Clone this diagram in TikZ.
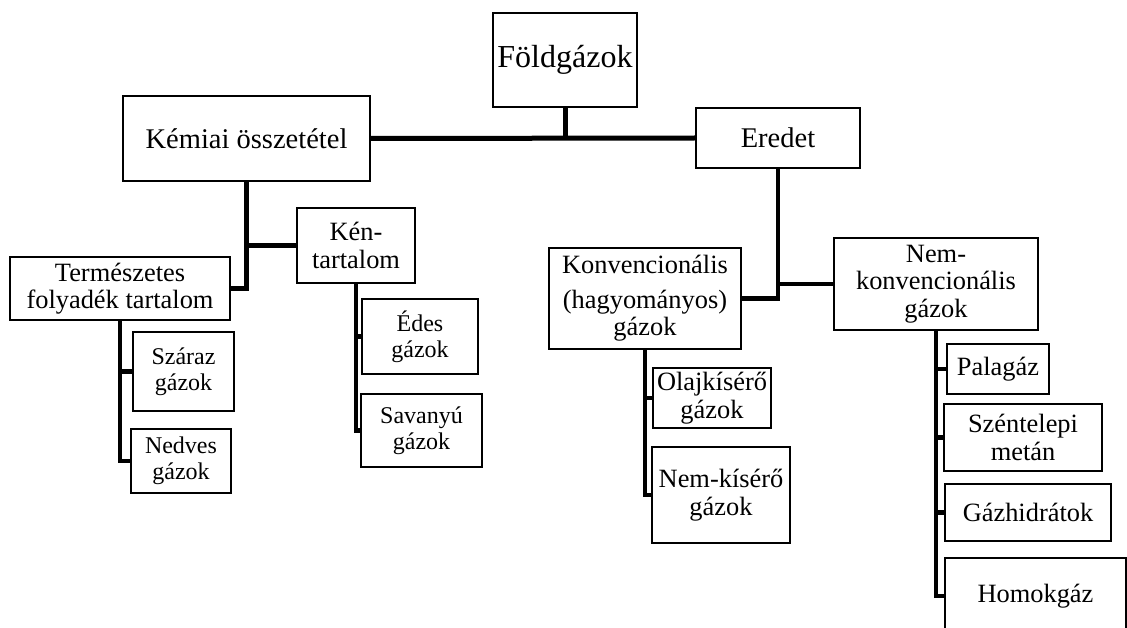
\documentclass[tikz,border=0pt]{standalone}
\usepackage{fontspec}
\setmainfont{Liberation Serif}
\usetikzlibrary{shadows}
\newcommand\fontBig{\fontsize{32bp}{34bp}\selectfont}
\newcommand\fontMid{\fontsize{28.5bp}{30bp}\selectfont}
\newcommand\fontStd{\fontsize{26.4bp}{27.5bp}\selectfont}
\newcommand\fontSml{\fontsize{24bp}{26bp}\selectfont}
\tikzset{
  box/.style={draw, line width=1.4bp, fill=white, inner sep=1bp, align=center, font=\fontStd,
    drop shadow={shadow xshift=1.3bp, shadow yshift=-1.3bp, opacity=0.35, fill=black}},
  conn/.style={line width=4.5bp, line join=miter},
  mainconn/.style={line width=5bp, line join=miter},
}
\begin{document}
\begin{tikzpicture}[x=1bp,y=-1bp]
\useasboundingbox (0,0) rectangle (1127,628);
\clip (0,0) rectangle (1127,628);
% boxes
\node[box, font=\fontBig, minimum width=144bp, minimum height=94bp] (fold) at (565,60) {Földgázok};
\node[box, font=\fontMid, minimum width=247bp, minimum height=85bp] (kem) at (246.5,138.5) {Kémiai összetétel};
\node[box, font=\fontMid, minimum width=164bp, minimum height=60bp] (ered) at (778,138) {Eredet};
\node[box, minimum width=118bp, minimum height=75bp] (ken) at (356,245.5) {Kén-\\tartalom};
\node[box, minimum width=220bp, minimum height=63bp] (term) at (120,288.5) {Természetes\\folyadék tartalom};
\node[box, font=\fontSml, minimum width=101bp, minimum height=79bp] (szar) at (183.5,371.5) {Száraz\\gázok};
\node[box, font=\fontSml, minimum width=100bp, minimum height=64bp] (nedv) at (181,461) {Nedves\\gázok};
\node[box, font=\fontSml, minimum width=116bp, minimum height=75bp] (edes) at (420,336.5) {Édes\\gázok};
\node[box, font=\fontSml, minimum width=121bp, minimum height=73bp] (sav) at (421.5,430.5) {Savanyú\\gázok};
\node[box, minimum width=192bp, minimum height=101bp] (konv) at (645,298.5) {Konvencionális\\[7bp](hagyományos)\\gázok};
\node[box, minimum width=204bp, minimum height=92bp] (nemk) at (936,284) {Nem-\\konvencionális\\gázok};
\node[box, minimum width=118bp, minimum height=60bp] (olaj) at (712,398) {Olajkísérő\\gázok};
\node[box, minimum width=138bp, minimum height=96bp] (nemkis) at (721,495) {Nem-kísérő\\gázok};
\node[box, minimum width=102bp, minimum height=50bp] (pala) at (998,369) {Palagáz};
\node[box, minimum width=158bp, minimum height=67bp] (szen) at (1023,437.5) {Széntelepi\\metán};
\node[box, minimum width=166bp, minimum height=57bp] (gazh) at (1028,512.5) {Gázhidrátok};
\node[box, minimum width=181bp, minimum height=76bp] (homo) at (1035.5,596) {Homokgáz};
% connectors
\draw[mainconn] (kem.east) -- (ered.west);
\draw[mainconn] (fold.south) -- (fold.south |- kem.east);
\draw[mainconn] (kem.south) |- (term.east);
\draw[conn] (kem.south |- ken.west) -- (ken.west);
\draw[conn] (term.south) |- (nedv.west);
\draw[conn] (term.south |- szar.west) -- (szar.west);
\draw[conn] (ken.south) |- (sav.west);
\draw[conn] (ken.south |- edes.west) -- (edes.west);
\draw[conn] (ered.south) |- (konv.east);
\draw[conn] (ered.south |- nemk.west) -- (nemk.west);
\draw[conn] (konv.south) |- (nemkis.west);
\draw[conn] (konv.south |- olaj.west) -- (olaj.west);
\draw[conn] (nemk.south) |- (homo.west);
\draw[conn] (nemk.south |- pala.west) -- (pala.west);
\draw[conn] (nemk.south |- szen.west) -- (szen.west);
\draw[conn] (nemk.south |- gazh.west) -- (gazh.west);
\end{tikzpicture}
\end{document}
